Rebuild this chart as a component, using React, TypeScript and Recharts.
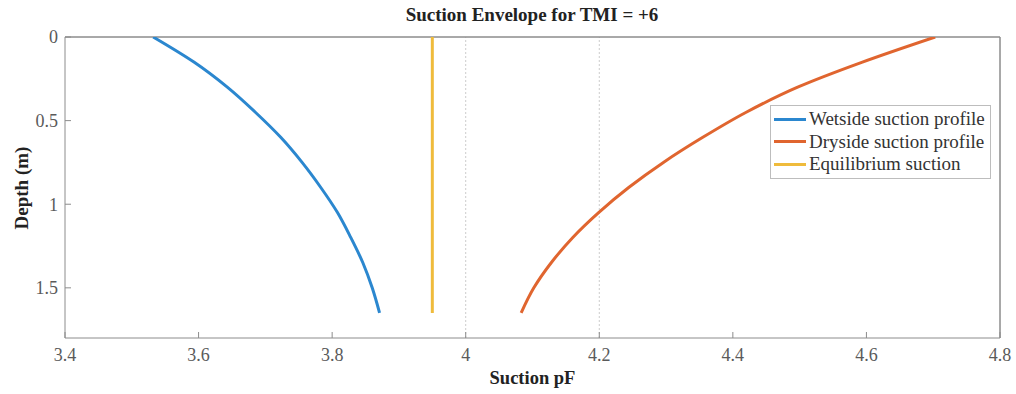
import { ScatterChart, Scatter, XAxis, YAxis, ReferenceLine } from 'recharts'

// hloubka (m) a sání pF
const DEPTH = [0, 0.15, 0.3, 0.45, 0.6, 0.75, 0.9, 1.05, 1.2, 1.35, 1.5, 1.65]
const WET_PF = [3.532, 3.593, 3.643, 3.685, 3.723, 3.755, 3.783, 3.808, 3.828, 3.846, 3.86, 3.871]
const DRY_PF = [4.703, 4.594, 4.497, 4.42, 4.355, 4.296, 4.244, 4.199, 4.16, 4.128, 4.102, 4.083]
const EQ_DEPTH = [0, 1.65]
const EQ_PF = [3.95, 3.95]

const X_TICKS = [3.4, 3.6, 3.8, 4, 4.2, 4.4, 4.6, 4.8]
const Y_TICKS = [0, 0.5, 1, 1.5]
const GRID_X = [4, 4.2]

const C = { wet: '#2b87cf', dry: '#e0652f', eq: '#efbb3c' }
const AXIS = '#8c8c8c'
const INK = '#5a5a5a'
const FONT = '"Liberation Serif", "Times New Roman", serif'

const SERIES = [
  { name: 'Wetside suction profile', color: C.wet, data: DEPTH.map((d, i) => ({ x: WET_PF[i], y: d })) },
  { name: 'Dryside suction profile', color: C.dry, data: DEPTH.map((d, i) => ({ x: DRY_PF[i], y: d })) },
  { name: 'Equilibrium suction', color: C.eq, data: EQ_DEPTH.map((d, i) => ({ x: EQ_PF[i], y: d })) },
]

const tick = { fontSize: 18, fill: INK, fontFamily: FONT }

export default function App() {
  return (
    <div style={{ position: 'absolute', left: 0, top: 0, width: 1016, height: 394, background: '#fff', fontFamily: FONT }}>
      <style>{`.recharts-text { font-family: ${FONT}; }`}</style>
      <div style={{ position: 'absolute', left: 0, width: 1016, top: 4, textAlign: 'center', paddingLeft: 48, boxSizing: 'border-box', fontWeight: 'bold', fontSize: 19, color: '#222' }}>
        Suction Envelope for TMI = +6
      </div>
      <div style={{ position: 'absolute', left: 65, width: 935, top: 368, textAlign: 'center', fontWeight: 'bold', fontSize: 18.5, color: '#222' }}>
        Suction pF
      </div>
      <div style={{ position: 'absolute', left: 22, top: 188, transform: 'translate(-50%, -50%) rotate(-90deg)', whiteSpace: 'nowrap', fontWeight: 'bold', fontSize: 19, color: '#222' }}>
        Depth (m)
      </div>
      <ScatterChart width={1016} height={394} margin={{ top: 36, right: 15, bottom: 16, left: 0 }}>
        <XAxis
          type="number" dataKey="x" domain={[3.4, 4.8]} ticks={X_TICKS} allowDataOverflow
          height={40} tick={tick} stroke={AXIS} tickSize={-6} tickMargin={16}
          tickFormatter={(v) => String(v)}
        />
        <XAxis
          xAxisId="top" orientation="top" type="number" domain={[3.4, 4.8]} ticks={X_TICKS} allowDataOverflow
          height={1} tick={false} stroke={AXIS} tickSize={-6}
        />
        <YAxis
          type="number" dataKey="y" domain={[0, 1.8]} ticks={Y_TICKS} reversed allowDataOverflow
          width={65} tick={tick} stroke={AXIS} tickSize={-6} tickMargin={13}
        />
        <YAxis
          yAxisId="right" orientation="right" type="number" domain={[0, 1.8]} ticks={Y_TICKS} reversed allowDataOverflow
          width={1} tick={false} stroke={AXIS} tickSize={-6}
        />
        {GRID_X.map((x) => (
          <ReferenceLine key={x} x={x} stroke="#cccccc" strokeDasharray="2 2" />
        ))}
        <ReferenceLine y={0} stroke={AXIS} />
        <ReferenceLine x={4.8} stroke={AXIS} />
        {SERIES.map((s) => (
          <Scatter
            key={s.name} name={s.name} data={s.data} fill={s.color}
            line={{ stroke: s.color, strokeWidth: 3 }} lineJointType="monotoneY" shape={() => <g />}
            isAnimationActive={false}
          />
        ))}
      </ScatterChart>
      <div style={{ position: 'absolute', left: 770, top: 105, border: '1px solid #bdbdbd', background: '#fff', padding: '2px 5px 2px 3px', fontSize: 19, color: '#333', lineHeight: '22.5px' }}>
        {SERIES.map((s) => (
          <div key={s.name} style={{ display: 'flex', alignItems: 'center', whiteSpace: 'nowrap' }}>
            <span style={{ display: 'inline-block', width: 32, height: 3, background: s.color, marginRight: 3 }} />
            {s.name}
          </div>
        ))}
      </div>
    </div>
  )
}
